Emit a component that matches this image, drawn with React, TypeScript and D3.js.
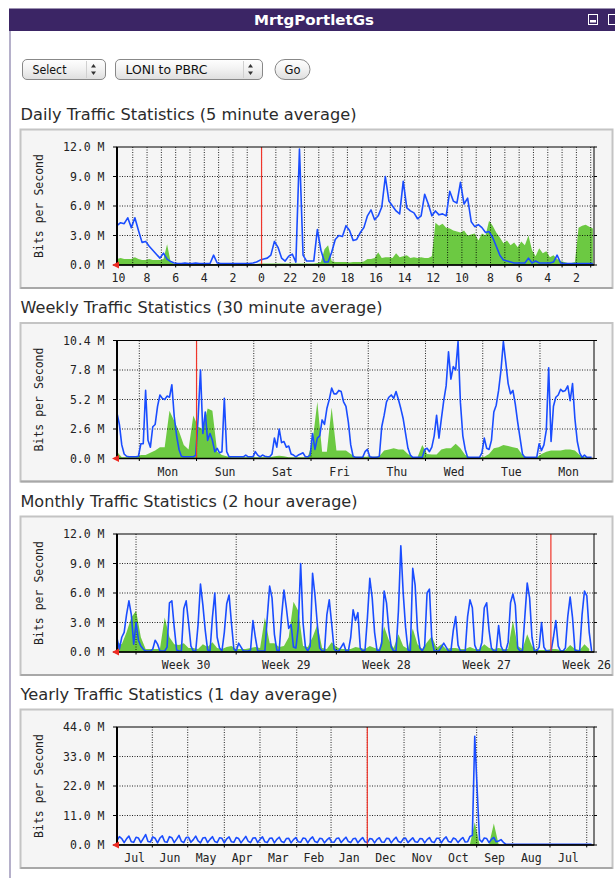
import React, { useRef, useEffect } from 'react';
import { select, scaleLinear, range, area, line, format } from 'd3';

// ---- daily (5 minute average), one value per 15 min, newest first ----
const dailyOut = [
  4.0, 4.3, 4.2, 4.8, 3.8, 4.8, 3.5, 2.3, 2.4, 1.9,
  1.5, 1.1, 0.7, 1.2, 0.6, 0.35, 0.2, 0.15, 0.15, 0.2,
  0.15, 0.15, 0.2, 0.15, 0.15, 0.15, 0.15, 1.0, 0.2, 0.15,
  0.15, 0.15, 0.15, 0.15, 0.15, 0.15, 0.15, 0.15, 0.2, 0.3,
  0.5, 0.6, 0.7, 1.0, 2.4, 1.8, 0.7, 0.4, 0.9, 1.1,
  0.3, 11.8, 1.0, 0.4, 0.4, 0.4, 3.6, 1.5, 0.3, 0.3,
  1.3, 2.6, 3.0, 2.9, 4.0, 3.5, 2.5, 2.6, 3.3, 3.8,
  5.0, 5.6, 4.6, 5.0, 5.9, 9.0, 6.5, 6.0, 5.5, 5.2,
  8.5, 5.8, 5.5, 5.3, 4.7, 5.0, 7.2, 6.2, 5.0, 5.5,
  5.1, 5.2, 5.0, 7.5, 6.5, 6.3, 8.4, 6.2, 6.8, 4.4,
  3.9, 4.1, 3.8, 3.3, 3.4, 2.8, 1.9, 1.0, 0.5, 0.4,
  0.3, 0.2, 0.2, 0.2, 0.2, 0.7, 0.2, 0.4, 0.2, 0.2,
  0.2, 0.2, 0.3, 1.0, 0.2, 0.15, 0.15, 0.15, 0.15, 0.15,
  0.15, 0.15, 0.15, 0.15,
];
const dailyIn = [
  0.6, 0.7, 0.6, 0.6, 0.6, 0.8, 0.6, 0.5, 0.5, 0.6,
  0.5, 0.5, 0.5, 0.6, 2.1, 0.3, 0.1, 0.1, 0.05, 0.1,
  0.1, 0.05, 0.1, 0.1, 0.1, 0.05, 0.1, 0.1, 0.1, 0.05,
  0.1, 0.1, 0.1, 0.05, 0.1, 0.1, 0.1, 0.1, 0.05, 0.1,
  0.15, 0.15, 0.15, 0.15, 0.15, 0.15, 0.15, 0.15, 0.15, 0.15,
  0.15, 0.15, 0.15, 0.15, 0.15, 0.15, 0.2, 0.3, 1.6, 2.0,
  0.4, 0.3, 0.3, 0.3, 0.3, 0.25, 0.3, 0.3, 0.3, 0.35,
  0.6, 0.6, 0.7, 1.3, 0.7, 0.8, 0.8, 0.7, 1.2, 0.8,
  0.9, 1.0, 0.7, 0.8, 0.7, 0.8, 0.7, 0.7, 0.9, 4.3,
  4.0, 4.2, 3.8, 3.7, 3.5, 3.4, 3.3, 3.5, 3.0, 3.1,
  3.2, 2.5, 3.2, 3.0, 4.5, 4.0, 3.3, 2.8, 2.2, 2.5,
  2.0, 2.3, 1.8, 2.4, 2.0, 3.0, 1.5, 0.9, 1.7, 1.2,
  1.4, 0.8, 1.0, 0.6, 0.4, 0.3, 0.2, 0.2, 0.3, 3.8,
  4.0, 4.1, 3.9, 3.7,
];
const dailyLabels = ['10', '8', '6', '4', '2', '0', '22', '20', '18', '16', '14', '12', '10', '8', '6', '4', '2'];

// ---- weekly (30 minute average), out one value per hour, in one per 2 h ----
const weeklyOut = [
  4.0, 3.0, 1.2, 0.4, 0.2, 0.15, 0.15, 0.15, 0.15, 0.2,
  1.3, 1.3, 6.0, 1.6, 1.0, 2.8, 3.0, 4.6, 5.6, 5.3,
  5.2, 5.5, 5.4, 6.5, 3.7, 2.0, 0.8, 0.2, 0.15, 0.15,
  0.15, 0.15, 0.15, 0.3, 3.5, 7.8, 2.2, 4.1, 1.6, 2.2,
  1.6, 0.6, 0.9, 0.5, 0.6, 5.3, 0.6, 0.15, 0.15, 0.15,
  0.15, 0.15, 0.15, 0.15, 0.3, 0.15, 0.15, 0.15, 0.6, 0.3,
  0.15, 0.3, 0.2, 0.15, 0.15, 0.4, 1.8, 1.0, 2.6, 1.4,
  1.5, 1.0, 1.1, 0.4, 0.3, 0.15, 0.3, 0.4, 0.5, 0.15,
  0.15, 0.3, 2.2, 0.8, 1.8, 2.0, 3.4, 3.0, 4.4, 5.2,
  6.2, 5.7, 5.7, 6.0, 5.9, 5.0, 4.6, 3.2, 1.2, 0.2,
  0.1, 0.1, 0.1, 0.1, 0.6, 0.8, 0.15, 0.1, 0.1, 0.1,
  0.2, 2.8, 3.8, 5.0, 5.4, 5.6, 5.3, 5.9, 5.2, 4.4,
  3.5, 2.2, 0.9, 0.3, 0.1, 0.1, 0.1, 0.1, 0.1, 0.8,
  0.9, 0.6, 1.0, 2.0, 3.8, 1.8, 3.5, 5.1, 6.4, 9.4,
  7.0, 8.1, 7.8, 10.3, 4.9, 2.0, 0.8, 0.1, 0.1, 0.1,
  0.1, 0.1, 0.1, 0.5, 1.8, 0.9, 0.8, 1.6, 4.1, 4.7,
  6.0, 7.8, 10.3, 8.5, 6.6, 5.7, 6.0, 4.8, 3.2, 1.8,
  0.4, 0.1, 0.1, 0.1, 0.1, 0.1, 0.1, 1.3, 0.7, 1.2,
  2.5, 8.0, 1.5, 4.6, 5.4, 5.6, 6.1, 5.9, 6.0, 6.4,
  5.1, 6.6, 3.5, 1.5, 0.5, 0.1, 0.3, 0.1, 0.1, 0.1,
];
const weeklyIn = [
  0.6, 0.1, 0.1, 0.1, 0.1, 0.3, 0.3, 0.5, 0.7, 1.0,
  1.0, 4.2, 3.3, 2.4, 1.2, 0.8, 3.8, 2.8, 2.6, 4.4,
  4.2, 0.6, 0.3, 0.2, 0.1, 0.1, 0.1, 0.1, 0.1, 0.1,
  0.1, 0.1, 0.1, 0.2, 0.25, 0.2, 0.1, 0.1, 0.1, 0.1,
  0.1, 1.5, 5.0, 0.6, 0.6, 4.5, 0.7, 0.7, 0.7, 0.4,
  0.15, 0.15, 0.15, 0.15, 0.15, 0.2, 0.7, 0.8, 0.9, 0.8,
  0.8, 0.4, 0.1, 0.1, 1.2, 0.4, 0.35, 0.35, 0.8, 0.9,
  0.9, 1.3, 0.9, 0.3, 0.1, 0.1, 0.1, 0.15, 0.4, 0.9,
  1.0, 1.2, 1.1, 1.0, 0.9, 0.3, 0.1, 0.1, 0.1, 0.4,
  0.6, 0.7, 0.7, 0.7, 0.8, 0.8, 0.7, 0.3, 0.1, 0.1,
];
const weeklyLabels = ['Mon', 'Sun', 'Sat', 'Fri', 'Thu', 'Wed', 'Tue', 'Mon'];

// ---- monthly (2 hour average), out one value per 4 h, in one per 8 h ----
const monthlyOut = [
  1.4, 0.3, 1.5, 2.0, 3.8, 5.2, 3.8, 0.8, 3.0, 1.2,
  0.6, 0.3, 0.1, 0.1, 0.1, 0.3, 1.2, 0.8, 0.1, 0.1,
  0.1, 0.5, 5.0, 5.2, 2.5, 0.2, 0.1, 0.1, 4.4, 5.2,
  3.0, 0.6, 0.1, 0.1, 2.8, 6.9, 4.8, 2.2, 0.2, 0.1,
  3.5, 6.0, 1.5, 0.4, 0.1, 2.0, 4.9, 5.8, 2.9, 0.3,
  0.1, 0.9, 0.5, 0.1, 0.1, 0.1, 0.2, 3.2, 1.5, 0.1,
  0.1, 0.1, 0.1, 3.5, 6.7, 5.5, 1.8, 0.2, 0.1, 3.6,
  6.3, 4.5, 2.4, 2.8, 0.5, 0.4, 2.5, 9.0, 3.0, 0.5,
  0.1, 0.6, 8.0, 5.8, 2.8, 0.4, 0.1, 0.1, 3.8, 5.3,
  2.9, 0.3, 0.1, 0.1, 0.5, 0.9, 0.1, 0.1, 1.5, 4.3,
  3.2, 4.0, 0.4, 0.1, 0.2, 3.5, 7.5, 5.5, 2.0, 0.2,
  0.1, 0.9, 6.2, 5.0, 2.2, 0.5, 0.1, 0.1, 4.2, 10.8,
  6.0, 2.5, 0.2, 0.1, 8.5, 6.8, 2.2, 0.4, 0.1, 0.6,
  6.0, 6.4, 1.3, 0.1, 0.1, 0.1, 0.5, 0.9, 0.5, 0.1,
  0.1, 2.2, 3.6, 0.7, 0.1, 0.1, 0.1, 3.6, 5.3, 4.5,
  0.7, 0.1, 0.1, 1.0, 4.5, 5.0, 2.2, 0.4, 0.1, 0.1,
  2.7, 0.6, 0.1, 0.1, 1.0, 5.0, 5.9, 4.8, 0.4, 0.1,
  0.1, 3.6, 7.0, 5.5, 1.5, 0.1, 0.1, 0.5, 3.0, 0.5,
  0.1, 0.1, 0.1, 1.5, 3.2, 0.6, 0.1, 0.1, 0.4, 3.6,
  5.6, 3.5, 0.2, 0.1, 0.1, 3.8, 6.2, 5.7, 2.0, 0.1,
];
const monthlyIn = [
  1.0, 0.8, 2.0, 3.5, 4.2, 1.5, 0.3, 0.3, 0.3, 0.3,
  3.5, 1.5, 0.8, 0.7, 0.9, 0.4, 0.4, 0.3, 0.8, 0.5,
  1.0, 0.4, 0.3, 0.5, 0.6, 0.3, 0.3, 0.3, 0.4, 0.5,
  0.4, 3.5, 0.9, 0.9, 0.5, 0.6, 1.5, 5.1, 4.2, 0.6,
  0.5, 1.5, 2.8, 0.4, 0.3, 1.0, 0.5, 0.3, 0.3, 0.3,
  0.5, 0.4, 0.3, 0.6, 0.4, 0.3, 2.6, 1.2, 0.4, 1.8,
  0.6, 0.3, 2.4, 0.8, 0.3, 1.0, 1.6, 0.4, 0.8, 0.3,
  0.4, 0.4, 0.3, 0.3, 0.5, 0.3, 0.3, 0.8, 0.4, 0.3,
  0.4, 0.3, 0.3, 3.2, 0.6, 0.3, 1.8, 0.6, 0.2, 0.2,
  0.2, 0.3, 0.3, 0.2, 0.2, 0.7, 0.3, 0.2, 0.8, 0.3,
];
const monthlyLabels = ['Week 30', 'Week 29', 'Week 28', 'Week 27', 'Week 26'];

// ---- yearly (1 day average), out one value per 2 days, in one per 4 days ----
const yearlyOut = [
  1.6, 3.1, 2.4, 0.9, 2.3, 3.3, 1.2, 1.0, 2.9, 2.6,
  0.9, 2.4, 3.9, 1.3, 1.1, 3.0, 2.5, 0.8, 2.6, 3.4,
  1.2, 1.0, 3.1, 2.7, 0.9, 2.2, 3.6, 1.4, 0.9, 2.8,
  2.9, 1.0, 2.0, 3.3, 1.5, 0.8, 2.6, 2.8, 0.9, 2.1,
  3.1, 1.3, 0.9, 2.7, 2.5, 0.8, 2.3, 3.0, 1.2, 1.0,
  2.8, 2.4, 0.8, 2.0, 3.2, 1.4, 0.9, 2.6, 2.7, 0.9,
  2.2, 3.0, 1.2, 0.9, 2.5, 2.6, 0.8, 2.1, 2.9, 1.3,
  0.9, 2.4, 2.5, 0.8, 2.0, 2.8, 1.2, 1.0, 2.6, 2.4,
  0.8, 2.2, 3.0, 1.3, 0.9, 2.5, 2.3, 0.8, 1.9, 2.7,
  1.1, 1.0, 2.4, 2.6, 0.9, 2.0, 2.9, 1.3, 0.9, 2.3,
  2.5, 0.8, 1.9, 2.8, 1.2, 0.9, 2.4, 2.2, 0.8, 2.1,
  2.7, 1.1, 1.0, 2.5, 2.4, 0.8, 2.0, 2.9, 1.3, 0.9,
  2.3, 2.6, 0.9, 1.8, 2.7, 1.2, 1.0, 2.4, 2.3, 0.8,
  2.0, 2.8, 1.2, 0.9, 2.5, 2.5, 0.8, 2.2, 3.0, 1.3,
  1.0, 2.6, 2.2, 0.9, 2.0, 2.8, 1.1, 1.2, 3.2, 3.6,
  40.5, 21.0, 2.0, 1.1, 2.6, 2.4, 0.9, 2.1, 2.8, 1.2,
  1.5, 2.0, 1.0, 0.3, 0.3, 0.3, 0.3, 0.3, 0.3, 0.3,
  0.3, 0.3, 0.3, 0.3, 0.3, 0.3, 0.3, 0.3, 0.3, 0.3,
  0.3, 0.3, 0.3, 0.3, 0.3, 0.3, 0.3, 0.3, 0.3, 0.3,
  0.3, 0.3, 0.3, 0.3, 0.3, 0.3, 0.3, 0.3, 0.3, 0.3,
];
const yearlyIn = [
  0.3, 0.4, 0.3, 0.3, 0.4, 0.3, 0.3, 0.4, 0.3, 0.3,
  0.4, 0.3, 0.3, 0.4, 0.3, 0.3, 0.4, 0.3, 0.3, 0.4,
  0.3, 0.3, 0.4, 0.3, 0.3, 0.4, 0.3, 0.3, 0.4, 0.3,
  0.3, 0.4, 0.3, 0.3, 0.4, 0.3, 0.3, 0.4, 0.3, 0.3,
  0.4, 0.3, 0.3, 0.4, 0.3, 0.3, 0.4, 0.3, 0.3, 0.4,
  0.3, 0.3, 0.4, 0.3, 0.3, 0.4, 0.3, 0.3, 0.4, 0.3,
  0.3, 0.4, 0.3, 0.3, 0.4, 0.3, 0.3, 0.4, 0.3, 0.3,
  0.4, 0.3, 0.3, 0.4, 0.3, 8.5, 0.3, 0.3, 0.3, 8.0,
  0.3, 0.05, 0.05, 0.05, 0.05, 0.05, 0.05, 0.05, 0.05, 0.05,
  0.05, 0.05, 0.05, 0.05, 0.05, 0.05, 0.05, 0.05, 0.05, 0.05,
];
// month boundaries, days before now
const yearlyMonthStarts = [0, 29.6, 59.3, 90, 119.9, 150.7, 179.5, 209.9, 240.7, 270.9, 301.6, 331.8, 363.1, 393.9];
const yearlyLabels = ['Jul', 'Jun', 'May', 'Apr', 'Mar', 'Feb', 'Jan', 'Dec', 'Nov', 'Oct', 'Sep', 'Aug', 'Jul'];

interface ChartSpec {
  title: string;
  titleWidth: number;
  top: number;
  span: number;
  yTicks: number[];
  outValues: number[];
  outStep: number;
  inValues: number[];
  inStep: number;
  gridAt: number[];
  labels: string[];
  labelAt: number[];
  redAt: number;
}

const charts: ChartSpec[] = [
  {
    title: 'Daily Traffic Statistics (5 minute average)', titleWidth: 336, top: 129.5,
    span: 33.33, yTicks: [0, 3, 6, 9, 12],
    outValues: dailyOut, outStep: 0.25, inValues: dailyIn, inStep: 0.25,
    gridAt: range(1.1, 33.2, 1), labels: dailyLabels, labelAt: range(0.1, 33, 2), redAt: 10.1,
  },
  {
    title: 'Weekly Traffic Statistics (30 minute average)', titleWidth: 362, top: 323,
    span: 200, yTicks: [0, 2.6, 5.2, 7.8, 10.4],
    outValues: weeklyOut, outStep: 1, inValues: weeklyIn, inStep: 2,
    gridAt: range(9.35, 200, 24), labels: weeklyLabels, labelAt: range(21.35, 200, 24), redAt: 33.35,
  },
  {
    title: 'Monthly Traffic Statistics (2 hour average)', titleWidth: 337, top: 516.5,
    span: 800, yTicks: [0, 3, 6, 9, 12],
    outValues: monthlyOut, outStep: 4, inValues: monthlyIn, inStep: 8,
    gridAt: range(31.9, 800, 168), labels: monthlyLabels, labelAt: range(115.9, 800, 168), redAt: 727.7,
  },
  {
    title: 'Yearly Traffic Statistics (1 day average)', titleWidth: 317, top: 709.5,
    span: 400, yTicks: [0, 11, 22, 33, 44],
    outValues: yearlyOut, outStep: 2, inValues: yearlyIn, inStep: 4,
    gridAt: yearlyMonthStarts.slice(1),
    labels: yearlyLabels,
    labelAt: yearlyMonthStarts.slice(1).map((d, i) => (d + yearlyMonthStarts[i]) / 2),
    redAt: 209.9,
  },
];

const sans = "'DejaVu Sans', Verdana, sans-serif";
const mono = "'DejaVu Sans Mono', monospace";
const plotLeft = 117;
const plotRight = 594;
const plotHeight = 118;
const inColor = '#6cc942';
const outColor = '#1a4dff';

export default function App() {
  const svgRef = useRef<SVGSVGElement | null>(null);

  useEffect(() => {
    if (!svgRef.current) return;
    const svg = select(svgRef.current);
    svg.selectAll('*').remove();

    const defs = svg.append('defs');
    const grad = defs.append('linearGradient').attr('id', 'btn').attr('x1', 0).attr('y1', 0).attr('x2', 0).attr('y2', 1);
    grad.append('stop').attr('offset', '0%').attr('stop-color', '#ffffff');
    grad.append('stop').attr('offset', '50%').attr('stop-color', '#f1f1f1');
    grad.append('stop').attr('offset', '100%').attr('stop-color', '#dedede');

    // portlet header
    svg.append('rect').attr('x', 9).attr('y', 8.5).attr('width', 606).attr('height', 22.5).attr('fill', '#3b2565');
    svg.append('text')
      .attr('x', 314).attr('y', 24.5)
      .attr('text-anchor', 'middle')
      .style('font-family', sans).style('font-weight', 'bold').style('font-size', '14px')
      .attr('textLength', 120).attr('lengthAdjust', 'spacingAndGlyphs')
      .attr('fill', '#ffffff')
      .text('MrtgPortletGs');
    svg.append('rect').attr('x', 588.5).attr('y', 14.5).attr('width', 9).attr('height', 10)
      .attr('fill', 'none').attr('stroke', '#ffffff');
    svg.append('rect').attr('x', 590).attr('y', 20).attr('width', 6).attr('height', 2.5).attr('fill', '#ffffff');
    svg.append('rect').attr('x', 608.5).attr('y', 14.5).attr('width', 9).attr('height', 10)
      .attr('fill', 'none').attr('stroke', '#ffffff');

    // portlet left border
    svg.append('line').attr('x1', 10).attr('x2', 10).attr('y1', 31).attr('y2', 878)
      .attr('stroke', '#9d96b9').attr('stroke-width', 1.5);

    // form controls
    const controls = [
      { text: 'Select', x: 22.5, w: 83, textW: 34, arrows: true },
      { text: 'LONI to PBRC', x: 115.5, w: 147, textW: 82, arrows: true },
      { text: 'Go', x: 275, w: 35, textW: 16, arrows: false },
    ];
    controls.forEach(c => {
      const g = svg.append('g');
      g.append('rect').attr('x', c.x).attr('y', 59.5).attr('width', c.w).attr('height', 20)
        .attr('rx', c.arrows ? 4.5 : 10).attr('fill', 'url(#btn)').attr('stroke', '#888');
      g.append('text')
        .attr('x', c.arrows ? c.x + 10 : c.x + c.w / 2)
        .attr('y', 74)
        .attr('text-anchor', c.arrows ? 'start' : 'middle')
        .style('font-family', sans).style('font-size', '12px')
        .attr('textLength', c.textW).attr('lengthAdjust', 'spacingAndGlyphs')
        .attr('fill', '#111')
        .text(c.text);
      if (c.arrows) {
        const ax = c.x + c.w - 12;
        g.append('line').attr('x1', ax - 7).attr('x2', ax - 7).attr('y1', 61).attr('y2', 78)
          .attr('stroke', '#d0d0d0');
        g.append('path').attr('d', `M${ax - 2.5},67.5 L${ax + 2.5},67.5 L${ax},64 Z`).attr('fill', '#333');
        g.append('path').attr('d', `M${ax - 2.5},71.5 L${ax + 2.5},71.5 L${ax},75 Z`).attr('fill', '#333');
      }
    });

    charts.forEach(c => {
      const g = svg.append('g');
      const y0 = c.top + 17.5;
      const y1 = y0 + plotHeight;
      const yMax = c.yTicks[c.yTicks.length - 1];
      const x = scaleLinear().domain([0, c.span]).range([plotLeft, plotRight]);
      const y = scaleLinear().domain([0, yMax]).range([y1, y0]);

      g.append('rect').attr('x', 20.5).attr('y', c.top).attr('width', 592).attr('height', 158.5)
        .attr('fill', '#f5f5f5').attr('stroke', '#c4c4c4').attr('stroke-width', 2);
      g.append('line').attr('x1', 20.5).attr('x2', 612.5).attr('y1', c.top + 158.5).attr('y2', c.top + 158.5)
        .attr('stroke', '#a8a8a8').attr('stroke-width', 2);

      g.append('text')
        .attr('x', 20.5).attr('y', c.top - 10)
        .style('font-family', sans).style('font-size', '15px')
        .attr('textLength', c.titleWidth).attr('lengthAdjust', 'spacingAndGlyphs')
        .attr('fill', '#2b2b2b')
        .text(c.title);

      // incoming traffic, filled
      g.append('path')
        .datum(c.inValues)
        .attr('fill', inColor)
        .attr('d', area<number>()
          .x((d, i) => x(i * c.inStep))
          .y0(y1)
          .y1(d => y(d)));

      // grid
      c.gridAt.forEach(t => {
        g.append('line').attr('x1', x(t)).attr('x2', x(t)).attr('y1', y0).attr('y2', y1)
          .attr('stroke', '#000').attr('stroke-dasharray', '1,1.5').attr('stroke-opacity', 0.85);
        g.append('line').attr('x1', x(t)).attr('x2', x(t)).attr('y1', y1).attr('y2', y1 + 2.5)
          .attr('stroke', '#000');
      });
      c.yTicks.filter(v => v > 0 && v < yMax).forEach(v => {
        g.append('line').attr('x1', plotLeft).attr('x2', plotRight).attr('y1', y(v)).attr('y2', y(v))
          .attr('stroke', '#000').attr('stroke-dasharray', '1,1.5').attr('stroke-opacity', 0.85);
      });

      // outgoing traffic, line
      g.append('path')
        .datum(c.outValues)
        .attr('fill', 'none')
        .attr('stroke', outColor)
        .attr('stroke-width', 1.6)
        .attr('stroke-linejoin', 'round')
        .attr('d', line<number>()
          .x((d, i) => x(i * c.outStep))
          .y(d => y(d)));

      // red marker line
      g.append('line').attr('x1', x(c.redAt)).attr('x2', x(c.redAt)).attr('y1', y0).attr('y2', y1)
        .attr('stroke', '#f0352a').attr('stroke-width', 1.2);

      // frame
      g.append('rect').attr('x', plotLeft).attr('y', y0).attr('width', plotRight - plotLeft).attr('height', plotHeight)
        .attr('fill', 'none').attr('stroke', '#000').attr('stroke-width', 1);
      g.append('line').attr('x1', plotLeft).attr('x2', plotLeft).attr('y1', y0).attr('y2', y1 + 1)
        .attr('stroke', '#000').attr('stroke-width', 2);
      g.append('line').attr('x1', plotLeft).attr('x2', plotRight).attr('y1', y1).attr('y2', y1)
        .attr('stroke', '#000').attr('stroke-width', 1.6);

      // y ticks
      c.yTicks.forEach(v => {
        g.append('line').attr('x1', plotLeft - 4).attr('x2', plotLeft).attr('y1', y(v)).attr('y2', y(v))
          .attr('stroke', '#000');
        g.append('line').attr('x1', plotRight).attr('x2', plotRight + 3).attr('y1', y(v)).attr('y2', y(v))
          .attr('stroke', '#000');
        g.append('text')
          .attr('x', 104.5).attr('y', y(v))
          .attr('text-anchor', 'end').attr('dominant-baseline', 'central')
          .style('font-family', mono).style('font-size', '11.5px')
          .attr('fill', '#222')
          .text(`${format('.1f')(v)} M`);
      });

      // x labels
      c.labels.forEach((lab, i) => {
        g.append('text')
          .attr('x', x(c.labelAt[i])).attr('y', y1 + 13)
          .attr('text-anchor', 'middle').attr('dominant-baseline', 'central')
          .style('font-family', mono).style('font-size', '11.5px')
          .attr('fill', '#222')
          .text(lab);
      });

      // origin arrow
      g.append('path')
        .attr('d', `M${plotLeft - 5},${y1} L${plotLeft + 2},${y1 - 3.5} L${plotLeft + 2},${y1 + 3.5} Z`)
        .attr('fill', '#ee2b22');

      g.append('text')
        .attr('transform', `translate(38.5,${(y0 + y1) / 2}) rotate(-90)`)
        .attr('text-anchor', 'middle').attr('dominant-baseline', 'central')
        .style('font-family', mono).style('font-size', '11.5px')
        .attr('fill', '#222')
        .text('Bits per Second');
    });
  }, []);

  return (
    <svg
      ref={svgRef}
      width={615}
      height={878}
      style={{ position: 'absolute', left: 0, top: 0, background: '#ffffff' }}
    />
  );
}
